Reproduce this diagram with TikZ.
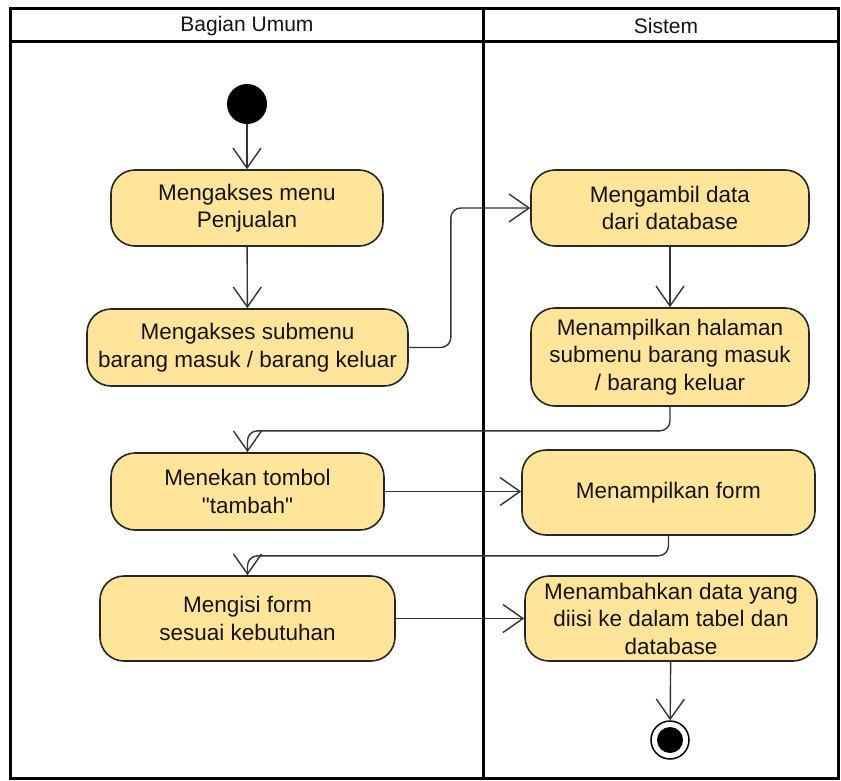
\documentclass[tikz,border=0pt]{standalone}
\usepackage{fontspec}
\setmainfont{Liberation Sans}[Ligatures=TeXOff]
\usetikzlibrary{arrows.meta}
\definecolor{actfill}{HTML}{FFE599}
\definecolor{txt}{HTML}{141414}
\begin{document}
\begin{tikzpicture}[x=1pt,y=-1pt,
  lane/.style={draw=black,line width=3pt},
  act/.style={draw=black!85,line width=1.6pt,fill=actfill,rounded corners=24pt,
    align=center,font=\fontsize{22.5}{27.5}\selectfont,text=txt,inner sep=0pt},
  flow/.style={draw=black!80,line width=1.4pt,rounded corners=10pt,
    -{Straight Barb[length=20pt,width=28pt]}},
  head/.style={font=\fontsize{21}{24}\selectfont,text=txt},
  initial/.style={circle,fill=black,minimum size=40pt,inner sep=0pt},
  final/.style={circle,draw=black,line width=1.5pt,minimum size=38pt,inner sep=0pt}
]
\useasboundingbox[fill=white] (0,0) rectangle (841,780);

% swimlanes
\draw[lane] (10,8) rectangle (838,778);
\draw[lane] (10,41) -- (838,41);
\draw[lane] (483,8) -- (483,778);
\node[head] (h1) at (247,26) {Bagian Umum};
\node[head] (h2) at (666,26) {Sistem};

% activities
\node[initial] (start) at (247,104) {};
\node[act,minimum width=272pt,minimum height=76pt] (a1) at (247,208) {Mengakses menu\\Penjualan};
\node[act,minimum width=321pt,minimum height=77pt] (a2) at (247.5,347.5) {Mengakses submenu\\barang masuk / barang keluar};
\node[act,minimum width=278pt,minimum height=76pt] (a3) at (670,208) {Mengambil data\\dari database};
\node[act,minimum width=278pt,minimum height=98pt] (a4) at (670,357) {Menampilkan halaman\\submenu barang masuk\\/ barang keluar};
\node[act,minimum width=273pt,minimum height=77pt] (a5) at (247.5,491.5) {Menekan tombol\\"tambah"};
\node[act,minimum width=293pt,minimum height=85pt] (a6) at (668.5,492.5) {Menampilkan form};
\node[act,minimum width=295pt,minimum height=85pt] (a7) at (247.5,618.5) {Mengisi form\\sesuai kebutuhan};
\node[act,minimum width=292pt,minimum height=85pt] (a8) at (671,618.5) {Menambahkan data yang\\diisi ke dalam tabel dan\\database};
\node[final] (end) at (670,740) {};
\node[circle,fill=black,minimum size=26pt,inner sep=0pt] (endcore) at (end.center) {};

% control flow
\draw[flow] (start) -- (a1);
\draw[flow] (a1) -- (a2);
\draw[flow] (a2.east) -- ++(42,0) |- (a3.west);
\draw[flow] (a3) -- (a4);
\draw[flow] (a4.south) -- ++(0,24) -| (a5.north);
\draw[flow] (a5.east) -- (a5.east -| a6.west);
\draw[flow] (a6.south) -- ++(0,20) -| (a7.north);
\draw[flow] (a7.east) -- (a7.east -| a8.west);
\draw[flow] (a8) -- (end);
\end{tikzpicture}
\end{document}
